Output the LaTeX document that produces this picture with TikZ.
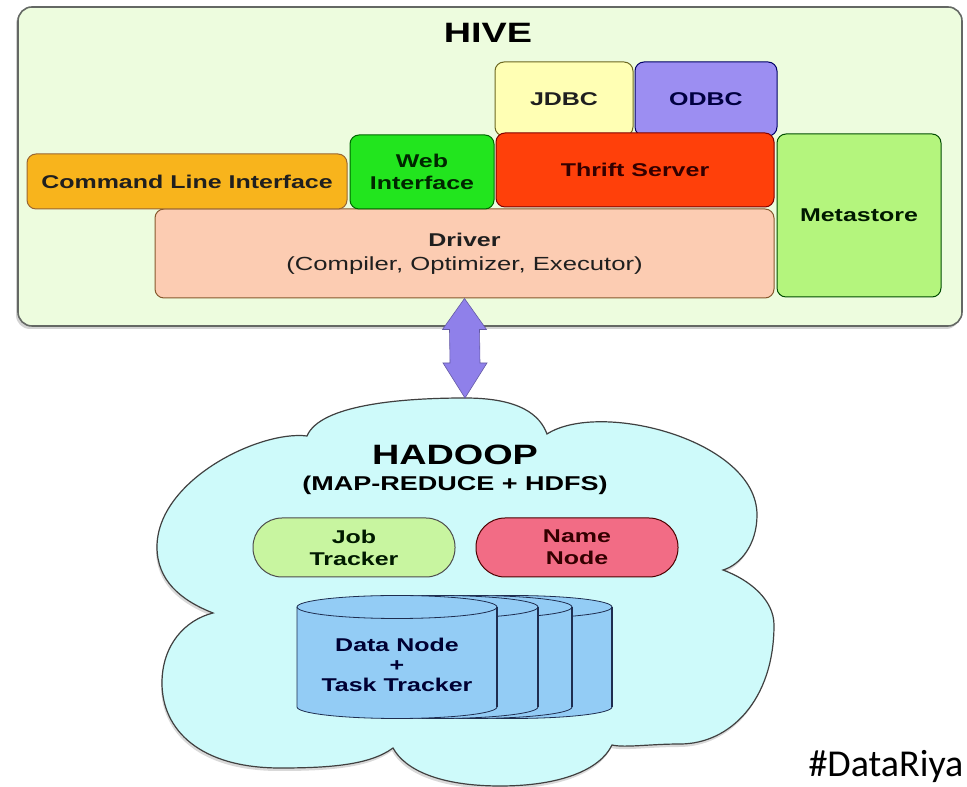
\documentclass[tikz,border=0pt]{standalone}
\usepackage{fontspec}
\setmainfont{Liberation Sans}[FakeStretch=1.35]
\newfontfamily\tagfont{Carlito}
\usetikzlibrary{calc,shadows}

\definecolor{hiveBg}{RGB}{237,252,222}
\definecolor{hiveEdge}{RGB}{100,104,100}
\definecolor{jdbcFill}{RGB}{255,255,180}
\definecolor{odbcFill}{RGB}{156,142,242}
\definecolor{cliFill}{RGB}{248,180,28}
\definecolor{webFill}{RGB}{34,229,30}
\definecolor{thriftFill}{RGB}{255,64,10}
\definecolor{metaFill}{RGB}{180,245,125}
\definecolor{driverFill}{RGB}{252,204,178}
\definecolor{arrowFill}{RGB}{143,128,234}
\definecolor{cloudFill}{RGB}{206,250,250}
\definecolor{jobFill}{RGB}{200,245,160}
\definecolor{nameFill}{RGB}{242,108,133}
\definecolor{cylFill}{RGB}{147,204,245}
\definecolor{cylEdge}{RGB}{30,45,80}

\newcommand{\boxfont}{\fontsize{18.5}{22}\selectfont\bfseries}

\tikzset{
  box/.style={draw, rounded corners=9pt, line width=1pt, font=\boxfont,
    align=center, inner sep=0pt, text=black!88},
  pill/.style={box, rounded corners=29pt},
}

\begin{document}
\begin{tikzpicture}[x=1pt, y=1pt]
		%%%%% START %%%%%
		\path[use as bounding box] (0,0) rectangle (967,787);
		\clip (0,0) rectangle (967,787);
		
		% hive frame
		\draw[fill=hiveBg, draw=hiveEdge, line width=1.6pt, rounded corners=14pt,
		  drop shadow={shadow xshift=-2pt, shadow yshift=-3pt, opacity=0.35}] (18,780) rectangle (962,461);
		\node[font=\fontsize{28}{30}\selectfont\bfseries] (hive) at (488,754) {HIVE};
		
		\node[box, fill=driverFill, draw=brown!70!black, minimum width=619pt, minimum height=89pt] (driver) at (464.5,533.5)
		  {\raisebox{-4pt}{Driver}\\[6pt]{\mdseries\fontsize{19}{22}\selectfont (Compiler, Optimizer, Executor)}};
		\node[box, fill=jdbcFill, draw=olive!70!black, minimum width=138pt, minimum height=74pt] (jdbc) at (564,688) {JDBC};
		\node[box, fill=odbcFill, draw=blue!40!black, text=blue!25!black, minimum width=142pt, minimum height=74pt] (odbc) at (706,688) {ODBC};
		\node[box, fill=cliFill, draw=brown!80!black, minimum width=320pt, minimum height=55pt] (cli) at (187,605.5) {Command Line Interface};
		\node[box, fill=webFill, draw=green!40!black, text=green!15!black, minimum width=144pt, minimum height=74pt] (web) at (422,615) {Web\\Interface};
		\node[box, fill=thriftFill, draw=red!50!black, text=red!20!black, minimum width=278pt, minimum height=74pt] (thrift) at (635,617) {Thrift Server};
		\node[box, fill=metaFill, draw=green!30!black, text=green!10!black, minimum width=164pt, minimum height=163pt] (meta) at (859,571.5) {Metastore};
		
		% hadoop cloud
		\coordinate (cloudtop) at (465,389);
		\draw[fill=cloudFill, draw=black!75, line width=1.2pt,
		  drop shadow={shadow xshift=-1pt, shadow yshift=-3pt, opacity=0.3}]
		  (307,351) .. controls (320,382) and (400,389) .. (cloudtop)
		  .. controls (520,389) and (540,372) .. (547,353)
		  .. controls (600,387) and (757,347) .. (757,272)
		  .. controls (757,242) and (740,222) .. (723,217)
		  .. controls (750,207) and (774,187) .. (774,162)
		  .. controls (774,87) and (730,43) .. (680,43)
		  .. controls (650,43) and (625,39) .. (612,42)
		  .. controls (600,17) and (560,1) .. (500,1)
		  .. controls (440,1) and (405,17) .. (393,39)
		  .. controls (370,22) and (330,19) .. (280,19)
		  .. controls (200,19) and (162,57) .. (162,104)
		  .. controls (162,142) and (185,167) .. (213,174)
		  .. controls (180,187) and (157,207) .. (157,240)
		  .. controls (157,307) and (260,357) .. (307,351) -- cycle;
		
		% double arrow
		\coordinate (arrtop) at (driver.south);
		\draw[fill=arrowFill, draw=arrowFill!70!black, line width=0.6pt]
		  (arrtop) -- ++(22,-31) -- ++(-7,0) -- ($(cloudtop)+(15,35)$) -- ++(7,0) -- (cloudtop)
		  -- ++(-22,35) -- ++(7,0) -- ($(arrtop)+(-15,-31)$) -- ++(-7,0) -- cycle;
		
		\node[font=\fontsize{28}{30}\selectfont\bfseries] (hadoop) at (455,332) {HADOOP};
		\node[font=\fontsize{20}{22}\selectfont\bfseries] (mapred) at (455,302) {(MAP-REDUCE + HDFS)};
		
		\node[pill, fill=jobFill, draw=black!70, text=green!10!black, minimum width=202pt, minimum height=59pt] (job) at (354,239.5) {Job\\Tracker};
		\node[pill, fill=nameFill, draw=red!30!black, text=red!20!black, minimum width=202pt, minimum height=59pt] (namenode) at (577,239.5) {Name\\Node};
		
		% data node stack
		\foreach \x in {412,372,338,297} {
		  \draw[fill=cylFill, draw=cylEdge, line width=0.8pt] (\x,180) -- (\x,80)
		    arc[start angle=180, end angle=360, x radius=100pt, y radius=11.5pt] -- (\x+200,180)
		    arc[start angle=0, end angle=180, x radius=100pt, y radius=11.5pt] -- cycle;
		  \draw[draw=cylEdge, line width=0.8pt] (\x,180) arc[start angle=180, end angle=360, x radius=100pt, y radius=11.5pt];
		  \draw[draw=cylEdge, line width=2pt] (\x+200,180) -- (\x+200,80);
		}
		\node[font=\boxfont, align=center, text=blue!20!black] (datanode) at (397,122) {Data Node\\[-2pt]+\\[-2pt]Task Tracker};
		
		\node[anchor=base west, font=\tagfont\fontsize{38}{38}\selectfont] (tag) at (805,10) {\#DataRiya};
		%%%%% END %%%%%
	\end{tikzpicture}
\end{document}
